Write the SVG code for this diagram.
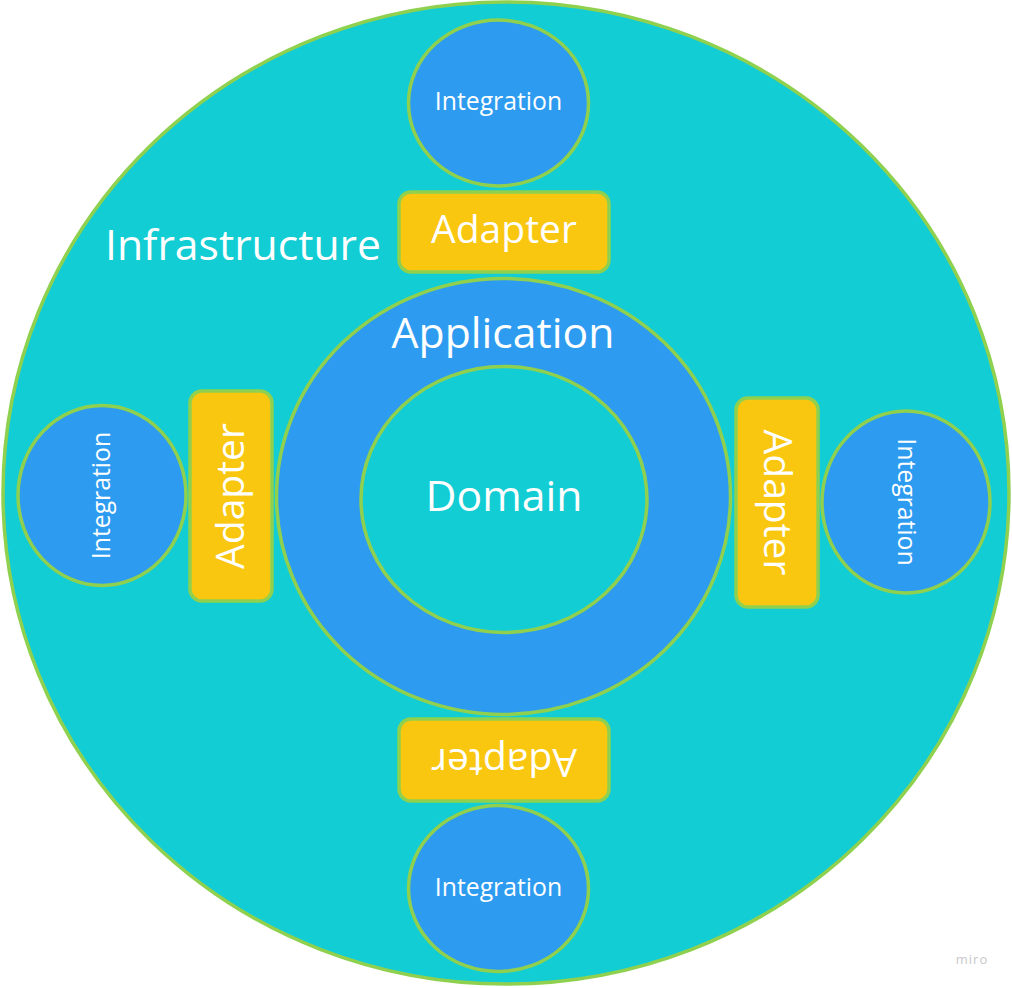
<svg xmlns="http://www.w3.org/2000/svg" width="1012" height="988" viewBox="0 0 1012 988">
<style>
.st{stroke:#8FD14F;stroke-width:3.5}
.teal{fill:#12CDD4}
.blue{fill:#2D9BF0}
.yel{fill:#FAC710}
text{font-family:"Open Sans","Noto Sans","DejaVu Sans",sans-serif;fill:#FFFFFF;text-anchor:middle}
.big{font-size:42.7px}
.ad{font-size:39px}
.int{font-size:24.8px}
</style>
<rect width="1012" height="988" fill="#FFFFFF"/>
<g id="infrastructure">
<ellipse class="teal st" cx="506" cy="493" rx="503" ry="491"/>
<text class="big" x="243" y="260">Infrastructure</text>
</g>
<g id="application">
<ellipse class="blue st" cx="503.5" cy="496.5" rx="227" ry="218"/>
<text class="big" x="503" y="348">Application</text>
</g>
<g id="domain">
<ellipse class="teal st" cx="504" cy="499.5" rx="143" ry="133"/>
<text class="big" x="504" y="511">Domain</text>
</g>
<g id="integration-top">
<ellipse class="blue st" cx="498.5" cy="103" rx="90" ry="83"/>
<text class="int" x="498.5" y="110">Integration</text>
</g>
<g id="adapter-top">
<rect class="yel st" x="399" y="192" width="210" height="80" rx="12"/>
<text class="ad" x="504" y="243">Adapter</text>
</g>
<g id="integration-left">
<ellipse class="blue st" cx="102" cy="495.5" rx="84" ry="90"/>
<text class="int" transform="translate(110,495.5) rotate(-90)">Integration</text>
</g>
<g id="adapter-left">
<rect class="yel st" x="190" y="391" width="82" height="210" rx="12"/>
<text class="ad" transform="translate(244,496) rotate(-90)">Adapter</text>
</g>
<g id="adapter-right">
<rect class="yel st" x="736" y="398" width="82" height="209" rx="12"/>
<text class="ad" transform="translate(764,502.5) rotate(90)">Adapter</text>
</g>
<g id="integration-right">
<ellipse class="blue st" cx="906" cy="502" rx="84" ry="91"/>
<text class="int" transform="translate(898,502) rotate(90)">Integration</text>
</g>
<g id="adapter-bottom">
<rect class="yel st" x="399" y="719" width="210" height="82" rx="12"/>
<text class="ad" transform="translate(504,749) rotate(180)">Adapter</text>
</g>
<g id="integration-bottom">
<ellipse class="blue st" cx="498.5" cy="888.5" rx="90" ry="83"/>
<text class="int" x="498.5" y="896">Integration</text>
</g>
<g id="connectors"></g>
<text x="972" y="964" style="font-size:13px;fill:#C8C8CC;letter-spacing:1px">miro</text>
</svg>
